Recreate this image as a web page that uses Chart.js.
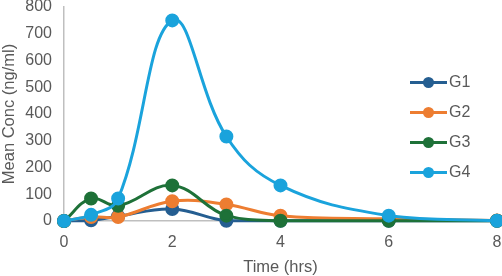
<!DOCTYPE html>
<html><head><meta charset="utf-8">
<script src="https://cdn.jsdelivr.net/npm/chart.js@4/dist/chart.umd.min.js"></script>
<style>
html,body{margin:0;padding:0;background:#fff;}
#wrap{position:relative;width:502px;height:276px;}
#legend{position:absolute;left:410px;top:72px;font-family:"Liberation Sans",Arial,sans-serif;font-size:16px;color:#595959;}
.item{position:relative;height:30px;line-height:20px;}
.ln{position:absolute;left:0;top:9px;width:37px;height:3px;}
.dot{position:absolute;left:13px;top:5px;width:11px;height:11px;border-radius:50%;}
.lab{position:absolute;left:39px;top:0;}
</style>
</head><body>
<div id="wrap"><canvas id="c" width="502" height="276"></canvas><div id="legend"></div></div>
<script>
const times = [0, 0.5, 1, 2, 3, 4, 6, 8];
const seriesNames = ["G1", "G2", "G3", "G4"];
const g1 = [0, 3, 18, 45, 1, 1, 1, 1];
const g2 = [0, 15, 15, 74, 62, 20, 8, 2];
const g3 = [0, 84, 57, 133, 20, 1, 1, 1];
const g4 = [0, 23, 84, 750, 316, 133, 20, 1];
const xTicks = [0, 2, 4, 6, 8];
const yTicks = [0, 100, 200, 300, 400, 500, 600, 700, 800];
const colors = ["#255E91", "#ED7D31", "#1E7138", "#1AA3DC"];
const allVals = [g1, g2, g3, g4];

const datasets = allVals.map((vals, i) => ({
  label: seriesNames[i],
  data: times.map((t, j) => ({x: t, y: vals[j]})),
  borderColor: colors[i],
  backgroundColor: colors[i],
  borderWidth: 3,
  pointRadius: 5.5,
  pointHoverRadius: 5.5,
  tension: 0.4,
  clip: false,
  order: allVals.length - 1 - i
}));

const font = {family: '"Liberation Sans", Arial, sans-serif', size: 16};
const tfont = {family: '"Liberation Sans", Arial, sans-serif', size: 16.5};
new Chart(document.getElementById('c'), {
  type: 'line',
  data: {datasets},
  options: {
    responsive: false,
    animation: false,
    events: [],
    layout: {autoPadding: false, padding: {top: 7, right: 5, left: 0, bottom: 0}},
    plugins: {legend: {display: false}, tooltip: {enabled: false}},
    scales: {
      x: {
        type: 'linear', min: 0, max: 8,
        afterBuildTicks: s => { s.ticks = xTicks.map(v => ({value: v})); },
        afterFit: s => { s.height = 55; s.paddingRight = 0; s.paddingLeft = 0; },
        grid: {display: false, drawTicks: false},
        border: {color: '#BFBFBF', width: 1.5},
        ticks: {color: '#595959', font, padding: 12},
        title: {display: true, text: 'Time (hrs)', color: '#595959', font: tfont, padding: {top: 6, bottom: -1.5}}
      },
      y: {
        min: 0, max: 800,
        afterBuildTicks: s => { s.ticks = yTicks.map(v => ({value: v})); },
        afterFit: s => { s.width = 64; s.paddingTop = 0; s.paddingBottom = 0; },
        grid: {display: false, drawTicks: false},
        border: {color: '#BFBFBF', width: 1.5},
        ticks: {color: '#595959', font, padding: 12},
        title: {display: true, text: 'Mean Conc (ng/ml)', color: '#595959', font: tfont, padding: {top: 0, bottom: 0}}
      }
    }
  }
});

const leg = document.getElementById('legend');
seriesNames.forEach((n, i) => {
  const d = document.createElement('div');
  d.className = 'item';
  d.innerHTML = '<div class="ln" style="background:' + colors[i] + '"></div><div class="dot" style="background:' + colors[i] + '"></div><div class="lab">' + n + '</div>';
  leg.appendChild(d);
});
</script>
</body></html>
